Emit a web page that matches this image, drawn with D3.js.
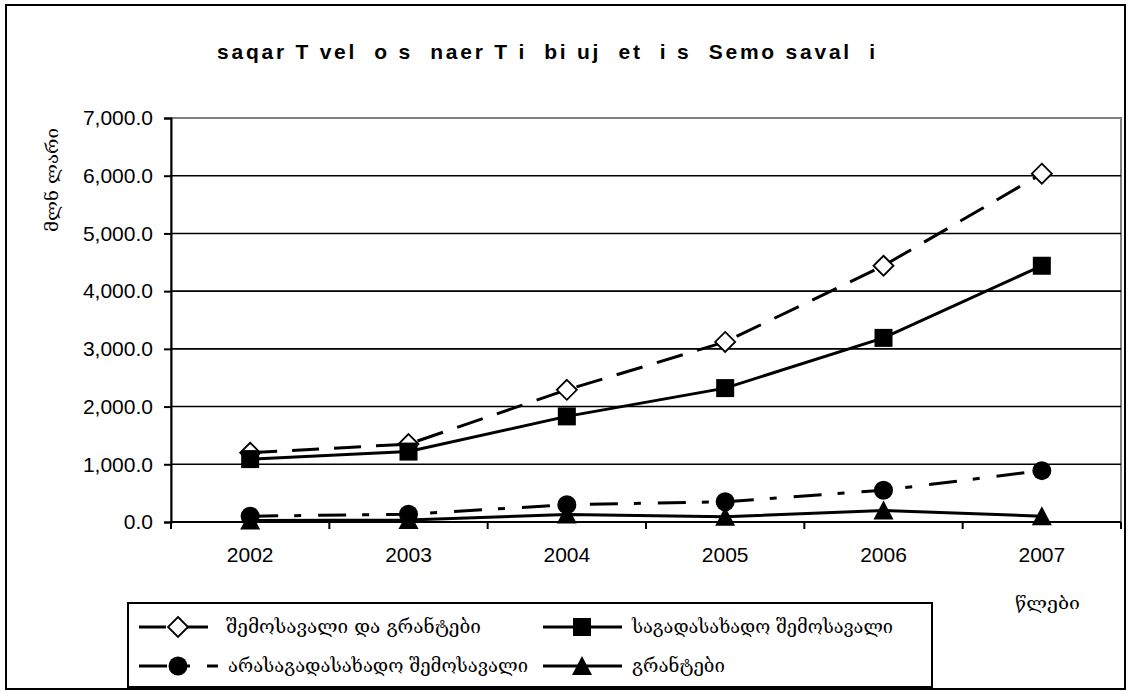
<!DOCTYPE html>
<html>
<head>
<meta charset="utf-8">
<script src="https://cdn.jsdelivr.net/npm/d3@7"></script>
<style>
  body { margin: 0; background: #fff; }
  text { font-family: "Liberation Sans", Arial, sans-serif; }
  .geo { font-family: "DejaVu Serif", "DejaVu Sans", serif; }
</style>
</head>
<body>
<svg id="chart" width="1133" height="694"></svg>
<script>
// data (million lari)
var years = ['2002', '2003', '2004', '2005', '2006', '2007'];
var totalIncome = [1200, 1350, 2290, 3120, 4440, 6035];
var taxIncome = [1090, 1220, 1830, 2320, 3190, 4440];
var nonTaxIncome = [100, 135, 300, 350, 550, 890];
var grants = [25, 35, 130, 90, 200, 100];
var yTicks = [0, 1000, 2000, 3000, 4000, 5000, 6000, 7000];

var seriesNames = ['შემოსავალი და გრანტები', 'საგადასახადო შემოსავალი',
                   'არასაგადასახადო შემოსავალი', 'გრანტები'];

var svg = d3.select('#chart');

// outer border
svg.append('rect')
    .attr('x', 6).attr('y', 5).attr('width', 1119).attr('height', 684)
    .attr('fill', 'none').attr('stroke', '#000').attr('stroke-width', 2);

var plot = { left: 171, right: 1121, top: 118, bottom: 522 };

var x = d3.scaleBand().domain(years).range([plot.left, plot.right]).padding(0);
var y = d3.scaleLinear().domain([0, 7000]).range([plot.bottom, plot.top]);

// plot area border (grey)
svg.append('rect')
    .attr('x', plot.left).attr('y', plot.top)
    .attr('width', plot.right - plot.left).attr('height', plot.bottom - plot.top)
    .attr('fill', 'none').attr('stroke', '#808080').attr('stroke-width', 2);

// gridlines
svg.append('g').selectAll('line')
    .data(yTicks.filter(function (d) { return d > 0 && d < 7000; }))
    .enter().append('line')
    .attr('x1', plot.left).attr('x2', plot.right)
    .attr('y1', function (d) { return y(d); }).attr('y2', function (d) { return y(d); })
    .attr('stroke', '#000').attr('stroke-width', 1.6);

// y axis
var yAxis = d3.axisLeft(y).tickValues(yTicks).tickSize(7).tickPadding(11)
    .tickFormat(d3.format(',.1f'));
var gy = svg.append('g').attr('transform', 'translate(' + plot.left + ',0)').call(yAxis);
gy.select('.domain').attr('stroke', '#000').attr('stroke-width', 2);
gy.selectAll('.tick line').attr('stroke', '#000').attr('stroke-width', 2);
gy.selectAll('.tick text').attr('font-size', 21).attr('fill', '#000')
    .style('font-family', '"Liberation Sans", Arial, sans-serif');

// x axis: ticks between categories
var xEdges = years.map(function (d) { return x(d); }).concat([plot.right]);
svg.append('line')
    .attr('x1', plot.left).attr('x2', plot.right)
    .attr('y1', plot.bottom).attr('y2', plot.bottom)
    .attr('stroke', '#000').attr('stroke-width', 2);
svg.append('g').selectAll('line').data(xEdges).enter().append('line')
    .attr('x1', function (d) { return d; }).attr('x2', function (d) { return d; })
    .attr('y1', plot.bottom).attr('y2', plot.bottom + 7)
    .attr('stroke', '#000').attr('stroke-width', 2);
svg.append('g').selectAll('text').data(years).enter().append('text')
    .attr('x', function (d) { return x(d) + x.bandwidth() / 2; })
    .attr('y', 562)
    .attr('text-anchor', 'middle')
    .attr('font-size', 21)
    .text(function (d) { return d; });

// title
svg.append('text')
    .attr('x', 546).attr('y', 59)
    .attr('text-anchor', 'middle')
    .attr('font-size', 21).attr('font-weight', 'bold')
    .style('white-space', 'pre')
    .attr('textLength', 658).attr('lengthAdjust', 'spacing')
    .text('saqar T vel  o s  naer T i  bi uj  et  i s  Semo saval  i');

// axis titles
svg.append('text')
    .attr('class', 'geo')
    .attr('transform', 'translate(58,180) rotate(-90)')
    .attr('text-anchor', 'middle')
    .attr('font-size', 17)
    .attr('textLength', 104).attr('lengthAdjust', 'spacingAndGlyphs')
    .text('მლნ ლარი');

svg.append('text')
    .attr('class', 'geo')
    .attr('x', 1015).attr('y', 609)
    .attr('font-size', 17)
    .attr('textLength', 65).attr('lengthAdjust', 'spacingAndGlyphs')
    .text('წლები');

// series
var cx = function (i) { return x(years[i]) + x.bandwidth() / 2; };
var series = [
    { name: seriesNames[0], values: totalIncome, dash: '27,15', marker: 'diamond' },
    { name: seriesNames[1], values: taxIncome, dash: null, marker: 'square' },
    { name: seriesNames[2], values: nonTaxIncome, dash: '28,16,7,17', marker: 'circle' },
    { name: seriesNames[3], values: grants, dash: null, marker: 'triangle' }
];

var line = d3.line()
    .x(function (d, i) { return cx(i); })
    .y(function (d) { return y(d); });

function drawMarker(g, type, px, py) {
    if (type === 'diamond') {
        g.append('path')
            .attr('d', 'M' + px + ',' + (py - 10) + 'L' + (px + 10) + ',' + py +
                'L' + px + ',' + (py + 10) + 'L' + (px - 10) + ',' + py + 'Z')
            .attr('fill', '#fff').attr('stroke', '#000').attr('stroke-width', 1.8);
    } else if (type === 'square') {
        g.append('rect').attr('x', px - 9).attr('y', py - 9)
            .attr('width', 18).attr('height', 18).attr('fill', '#000');
    } else if (type === 'circle') {
        g.append('circle').attr('cx', px).attr('cy', py).attr('r', 9.5).attr('fill', '#000');
    } else {
        g.append('path')
            .attr('d', 'M' + px + ',' + (py - 10) + 'L' + (px + 10) + ',' + (py + 9) +
                'L' + (px - 10) + ',' + (py + 9) + 'Z')
            .attr('fill', '#000');
    }
}

// draw lines first, then markers on top
var gLines = svg.append('g');
series.forEach(function (s) {
    gLines.append('path')
        .datum(s.values)
        .attr('d', line)
        .attr('fill', 'none')
        .attr('stroke', '#000')
        .attr('stroke-width', 3)
        .attr('stroke-dasharray', s.dash);
});
var gMarks = svg.append('g');
series.forEach(function (s) {
    s.values.forEach(function (v, i) { drawMarker(gMarks, s.marker, cx(i), y(v)); });
});

// legend
svg.append('rect')
    .attr('x', 128).attr('y', 603).attr('width', 804).attr('height', 84)
    .attr('fill', 'none').attr('stroke', '#000').attr('stroke-width', 2);

var legendPos = [
    { mx: 178, ty: 627, tx: 226, len: 255 },
    { mx: 582, ty: 627, tx: 632, len: 261 },
    { mx: 178, ty: 666, tx: 228, len: 300 },
    { mx: 582, ty: 666, tx: 632, len: 93 }
];
series.forEach(function (s, i) {
    var p = legendPos[i];
    var g = svg.append('g');
    g.append('line')
        .attr('x1', p.mx - 39).attr('x2', p.mx + 40)
        .attr('y1', p.ty).attr('y2', p.ty)
        .attr('stroke', '#000').attr('stroke-width', 3)
        .attr('stroke-dasharray', s.dash);
    drawMarker(g, s.marker, p.mx, p.ty);
    g.append('text')
        .attr('class', 'geo')
        .attr('x', p.tx).attr('y', p.ty + 6)
        .attr('font-size', 18)
        .attr('textLength', p.len).attr('lengthAdjust', 'spacingAndGlyphs')
        .text(s.name);
});
</script>
</body>
</html>
